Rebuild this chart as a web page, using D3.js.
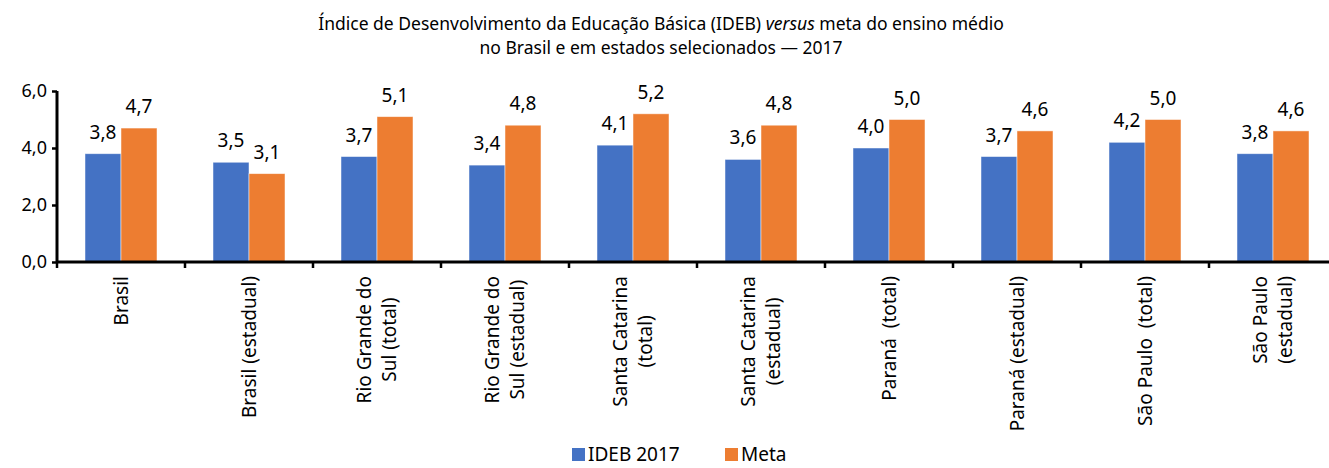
<!DOCTYPE html>
<html>
<head>
<meta charset="utf-8">
<script src="https://cdn.jsdelivr.net/npm/d3@7"></script>
<style>
  body { margin: 0; background: #fff; }
  text { font-family: "Noto Sans", "Open Sans", sans-serif; fill: #000; }
</style>
</head>
<body>
<svg id="chart"></svg>
<script>
// data
const categories = [
  "Brasil", "Brasil (estadual)", "Rio Grande do|Sul (total)", "Rio Grande do|Sul (estadual)",
  "Santa Catarina|(total)", "Santa Catarina|(estadual)", "Paraná  (total)", "Paraná (estadual)",
  "São Paulo  (total)", "São Paulo|(estadual)"
];
const ideb2017 = [3.8, 3.5, 3.7, 3.4, 4.1, 3.6, 4.0, 3.7, 4.2, 3.8];
const meta = [4.7, 3.1, 5.1, 4.8, 5.2, 4.8, 5.0, 4.6, 5.0, 4.6];
const yTicks = [0, 2, 4, 6];
const seriesNames = ["IDEB 2017", "Meta"];
const colors = ["#4472C4", "#ED7D31"];

const W = 1329, H = 468;
const margin = { top: 91, left: 57, bottom: 206 };
const plotW = 1280;
const plotH = H - margin.top - margin.bottom;

const svg = d3.select("#chart").attr("width", W).attr("height", H);

// title
const title = svg.append("text")
  .attr("text-anchor", "middle")
  .style("font-size", "17.5px");
const t1 = title.append("tspan").attr("x", 661).attr("y", 30);
t1.append("tspan").text("Índice de Desenvolvimento da Educação Básica (IDEB) ");
t1.append("tspan").style("font-style", "italic").text("versus");
t1.append("tspan").text(" meta do ensino médio");
title.append("tspan").attr("x", 661).attr("y", 54).text("no Brasil e em estados selecionados — 2017");

const chart = svg.append("g").attr("transform", `translate(${margin.left},${margin.top})`);

const x0 = d3.scaleBand().domain(d3.range(categories.length)).range([0, plotW]).paddingInner(0).paddingOuter(0);
const x1 = d3.scaleBand().domain([0, 1]).range([28, 100]);
const y = d3.scaleLinear().domain([0, 6]).range([plotH, 0]);

const rows = categories.map((c, i) => ({ i, vals: [ideb2017[i], meta[i]] }));

const groups = chart.selectAll("g.grp").data(rows).enter().append("g")
  .attr("transform", d => `translate(${x0(d.i)},0)`);

groups.selectAll("rect").data(d => d.vals.map((v, k) => ({ v, k }))).enter().append("rect")
  .attr("x", d => x1(d.k))
  .attr("width", x1.bandwidth())
  .attr("y", d => y(d.v))
  .attr("height", d => plotH - y(d.v))
  .attr("fill", d => colors[d.k])
  .attr("stroke", "#fff")
  .attr("stroke-opacity", 0.6)
  .attr("stroke-width", 0.8);

groups.selectAll("text.lbl").data(d => d.vals.map((v, k) => ({ v, k }))).enter().append("text")
  .attr("class", "lbl")
  .attr("x", d => x1(d.k) + x1.bandwidth() / 2)
  .attr("y", d => y(d.v) - 15)
  .attr("text-anchor", "middle")
  .style("font-size", "19px")
  .text(d => d3.format(".1f")(d.v).replace(".", ","));

// y axis
const yAxis = d3.axisLeft(y).tickValues(yTicks).tickSize(5).tickPadding(5)
  .tickFormat(d => d3.format(".1f")(d).replace(".", ","));
const yG = chart.append("g").call(yAxis);
yG.select(".domain").attr("stroke", "#000").attr("stroke-width", 3).attr("d", `M0,${plotH}V0`);
yG.selectAll(".tick line").attr("stroke", "#000").attr("stroke-width", 2.5);
yG.selectAll(".tick text").style("font-size", "18px").attr("fill", "#000");

// x axis
const xG = chart.append("g").attr("transform", `translate(0,${plotH})`);
xG.append("line").attr("x1", 0).attr("x2", plotW).attr("stroke", "#000").attr("stroke-width", 3);
xG.selectAll("line.tk").data(d3.range(categories.length + 1)).enter().append("line")
  .attr("class", "tk")
  .attr("x1", d => d * x0.step()).attr("x2", d => d * x0.step())
  .attr("y1", 0).attr("y2", 6)
  .attr("stroke", "#000").attr("stroke-width", 2.5);

const labG = xG.selectAll("g.cat").data(categories).enter().append("g")
  .attr("class", "cat")
  .attr("transform", (d, i) => `translate(${x0(i) + x0.bandwidth() / 2},14) rotate(-90)`);

labG.each(function (d) {
  const g = d3.select(this);
  const lines = d.split("|");
  const lineH = 25;
  const texts = lines.map((ln, j) => g.append("text")
    .style("font-size", "19px")
    .style("white-space", "pre")
    .attr("text-anchor", "middle")
    .attr("dy", "0.35em")
    .attr("y", (j - (lines.length - 1) / 2) * lineH)
    .text(ln));
  const maxLen = d3.max(texts, t => t.node().getComputedTextLength());
  texts.forEach(t => t.attr("x", -maxLen / 2));
});

// legend
const leg = svg.append("g").attr("transform", "translate(572,448)");
seriesNames.forEach((s, k) => {
  const lg = leg.append("g").attr("transform", `translate(${k * 153},0)`);
  lg.append("rect").attr("width", 13).attr("height", 13).attr("fill", colors[k]);
  lg.append("text").attr("x", 16).attr("y", 13).style("font-size", "19px").text(s);
});
</script>
</body>
</html>
